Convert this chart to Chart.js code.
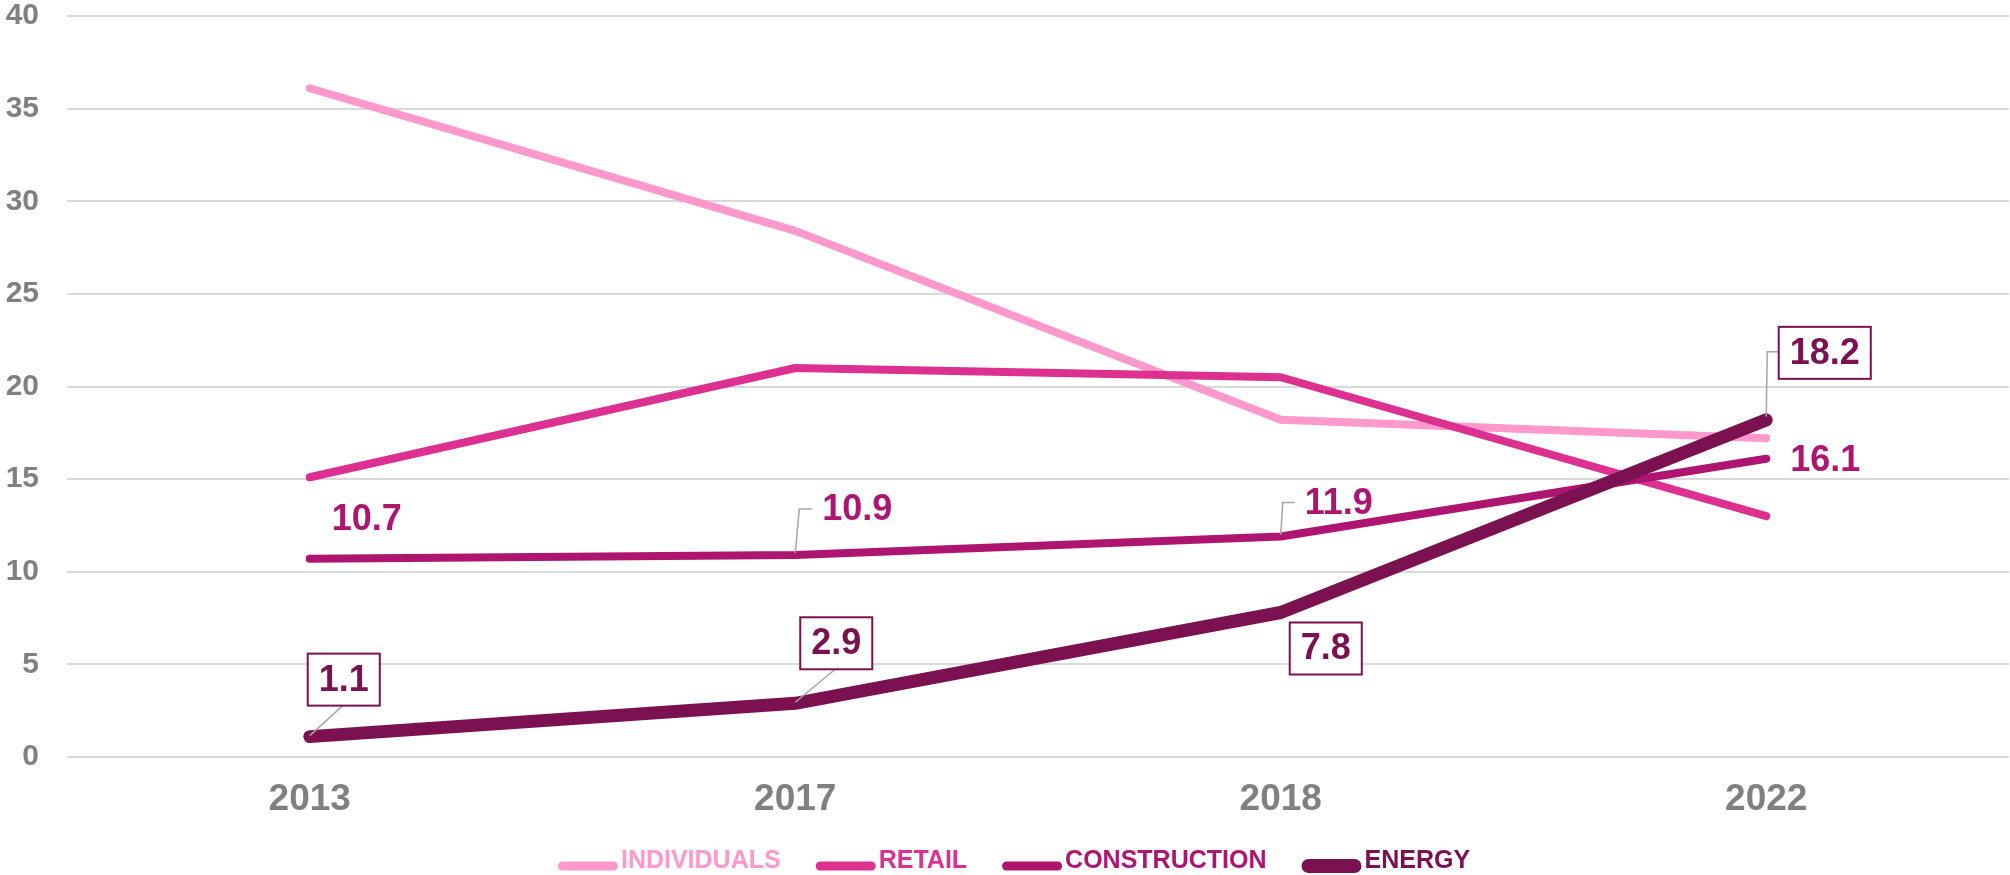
<!DOCTYPE html>
<html>
<head>
<meta charset="utf-8">
<script src="https://cdn.jsdelivr.net/npm/chart.js@4.4.0/dist/chart.umd.min.js"></script>
<style>
  html, body { margin: 0; padding: 0; background: #ffffff; }
  #wrap { width: 2010px; height: 875px; position: relative; }
</style>
</head>
<body>
<div id="wrap"><canvas id="c" width="2010" height="875"></canvas></div>
<script>
// ---- data ----
const categories = ['2013', '2017', '2018', '2022'];
const individuals = [36.1, 28.4, 18.2, 17.2];
const retail = [15.1, 21.0, 20.5, 13.0];
const construction = [10.7, 10.9, 11.9, 16.1];
const energy = [1.1, 2.9, 7.8, 18.2];
const seriesNames = ['INDIVIDUALS', 'RETAIL', 'CONSTRUCTION', 'ENERGY'];
const yTicks = [0, 5, 10, 15, 20, 25, 30, 35, 40];

// ---- styles ----
const colors = ['#FF99CC', '#DC3191', '#AD1570', '#7B1150'];
const widths = [8, 8, 8, 13];
const legendWidths = [9, 9, 9, 14];
const FONT = '"Liberation Sans", Arial, sans-serif';
const GRAY = '#808080';
const LEADER = '#A6A6A6';

// label placement styles (offsets from the data point, pixels)
const constructionLabelStyle = [
  { dx: 22, dy: -39, leader: null },
  { dx: 27, dy: -45, leader: [[0, -2], [4, -46], [17, -46]] },
  { dx: 24, dy: -32, leader: [[0, -2], [2, -34], [14, -34]] },
  { dx: 24, dy: 2, leader: null }
];
const energyLabelStyle = [
  { cx: 34, cy: -57, leader: 'bottom' },
  { cx: 41, cy: -60, leader: 'bottom' },
  { cx: 45, cy: 36, leader: null },
  { cx: 58.5, cy: -67, leader: 'left' }
];

const allSeries = [individuals, retail, construction, energy];
const drawOrder = [4, 3, 2, 1];

const labelPlugin = {
  id: 'customLabels',
  afterDatasetsDraw(chart) {
    const ctx = chart.ctx;
    ctx.save();
    ctx.font = 'bold 36px ' + FONT;
    ctx.textBaseline = 'middle';
    const mC = chart.getDatasetMeta(2);
    construction.forEach((v, i) => {
      const p = mC.data[i];
      const st = constructionLabelStyle[i];
      if (st.leader) {
        ctx.strokeStyle = LEADER; ctx.lineWidth = 1.5;
        ctx.beginPath();
        st.leader.forEach((pt, k) => {
          const x = p.x + pt[0], y = p.y + pt[1];
          if (k === 0) ctx.moveTo(x, y); else ctx.lineTo(x, y);
        });
        ctx.stroke();
      }
      ctx.fillStyle = colors[2];
      ctx.textAlign = 'left';
      ctx.fillText(v.toFixed(1), p.x + st.dx, p.y + st.dy);
    });
    const mE = chart.getDatasetMeta(3);
    energy.forEach((v, i) => {
      const p = mE.data[i];
      const st = energyLabelStyle[i];
      const txt = v.toFixed(1);
      const tw = ctx.measureText(txt).width;
      const bw = tw + 22, bh = 52;
      const cx = p.x + st.cx, cy = p.y + st.cy;
      const bx = cx - bw / 2, by = cy - bh / 2;
      if (st.leader === 'bottom') {
        ctx.strokeStyle = LEADER; ctx.lineWidth = 1.5;
        ctx.beginPath(); ctx.moveTo(p.x, p.y - 1); ctx.lineTo(cx - 1, by + bh); ctx.stroke();
      } else if (st.leader === 'left') {
        ctx.strokeStyle = LEADER; ctx.lineWidth = 1.5;
        ctx.beginPath(); ctx.moveTo(p.x, p.y - 3); ctx.lineTo(p.x + 1, cy - 1); ctx.lineTo(bx, cy - 1); ctx.stroke();
      }
      ctx.fillStyle = '#ffffff';
      ctx.fillRect(bx, by, bw, bh);
      ctx.strokeStyle = colors[3]; ctx.lineWidth = 2;
      ctx.strokeRect(bx, by, bw, bh);
      ctx.fillStyle = colors[3];
      ctx.textAlign = 'center';
      ctx.fillText(txt, cx, cy + 1);
    });
    ctx.restore();
  },
  afterDraw(chart) {
    const ctx = chart.ctx;
    ctx.save();
    ctx.font = 'bold 25px ' + FONT;
    ctx.textBaseline = 'alphabetic';
    ctx.textAlign = 'left';
    const lineLen = 60, gapText = 3, gapItem = 35;
    const items = seriesNames.map((n, i) => ({ n, i, tw: ctx.measureText(n).width }));
    const total = items.reduce((s, it) => s + lineLen + gapText + it.tw, 0) + gapItem * (items.length - 1);
    let x = 1014 - total / 2;
    const yLine = 866, yText = 868;
    items.forEach(it => {
      const w = legendWidths[it.i];
      ctx.strokeStyle = colors[it.i];
      ctx.lineWidth = w;
      ctx.lineCap = 'round';
      ctx.beginPath();
      ctx.moveTo(x + w / 2, yLine);
      ctx.lineTo(x + lineLen - w / 2, yLine);
      ctx.stroke();
      ctx.fillStyle = colors[it.i];
      ctx.fillText(it.n, x + lineLen + gapText, yText);
      x += lineLen + gapText + it.tw + gapItem;
    });
    ctx.restore();
  }
};

new Chart(document.getElementById('c'), {
  type: 'line',
  data: {
    labels: categories,
    datasets: allSeries.map((d, i) => ({
      label: seriesNames[i],
      data: d,
      borderColor: colors[i],
      backgroundColor: colors[i],
      borderWidth: widths[i],
      borderCapStyle: 'round',
      borderJoinStyle: 'round',
      pointRadius: 0,
      pointHoverRadius: 0,
      tension: 0,
      fill: false,
      order: drawOrder[i]
    }))
  },
  options: {
    responsive: false,
    devicePixelRatio: 1,
    animation: false,
    layout: { padding: { top: 16, right: 1, left: 0, bottom: 0 } },
    plugins: { legend: { display: false }, tooltip: { enabled: false } },
    scales: {
      x: {
        type: 'category',
        offset: true,
        grid: { display: false, drawTicks: false },
        border: { display: false },
        ticks: { color: GRAY, font: { family: FONT, size: 37, weight: 'bold', lineHeight: 1.2 }, padding: 21, maxRotation: 0 },
        afterFit(scale) { scale.height = 118; }
      },
      y: {
        min: 0, max: 40,
        afterBuildTicks(scale) { scale.ticks = yTicks.map(v => ({ value: v })); },
        grid: { color: '#D9D9D9', lineWidth: 2, drawTicks: true, tickLength: 28, tickColor: 'rgba(0,0,0,0)' },
        border: { display: false },
        ticks: { color: GRAY, font: { family: FONT, size: 30, weight: 'bold', lineHeight: 1.0 }, padding: 0 },
        afterFit(scale) { scale.width = 67; }
      }
    }
  },
  plugins: [labelPlugin]
});
</script>
</body>
</html>
